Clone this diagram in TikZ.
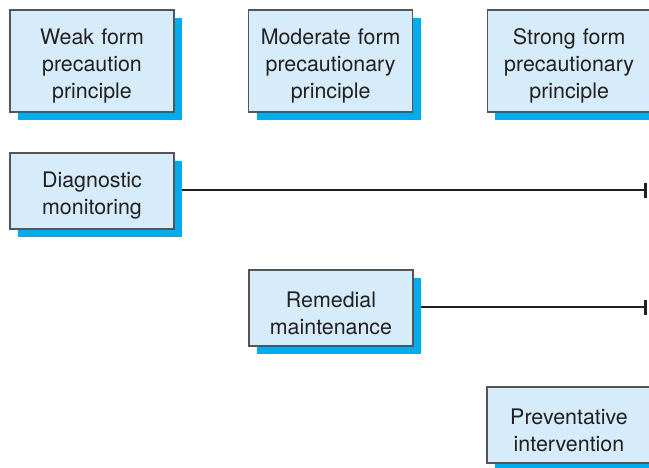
\documentclass[tikz,border=0pt]{standalone}
\usepackage{fontspec}
\setmainfont{TeX Gyre Heros}
\usepackage{tikz}
\usetikzlibrary{arrows.meta, positioning, shadows, backgrounds}
\definecolor{boxfill}{RGB}{214,236,250}
\definecolor{boxline}{RGB}{85,85,88}
\definecolor{shadowblue}{RGB}{0,172,236}
\definecolor{inkgray}{RGB}{35,31,32}

\begin{document}
\begin{tikzpicture}[
    x=0.5pt, y=-0.5pt,
    node distance=20.5pt and 37.3pt,
    principle/.style={rectangle, draw=boxline, line width=0.6pt, fill=boxfill,
                text width=76pt, align=center, minimum width=82pt, minimum height=51pt,
                inner sep=0pt, outer sep=0pt, text=inkgray, font=\fontsize{10.7}{13.5}\selectfont,
                execute at end node={\endgraf\vspace{-5pt}},
                drop shadow={shadow xshift=4pt, shadow yshift=-4pt, fill=shadowblue, opacity=1}},
    action/.style={principle, minimum height=38pt},
    arrow/.style={{}-{Bar[width=7.5pt, line width=1.5pt]}, line width=1.2pt, inkgray}
]
\useasboundingbox (0,0) rectangle (649,467);

\node[principle] (weak) at (92,61) {Weak form\\precaution\\principle};
\node[principle, right=of weak] (moderate) {Moderate form\\precautionary\\principle};
\node[principle, right=of moderate] (strong) {Strong form\\precautionary\\principle};
\node[action, below=of weak] (monitor) {Diagnostic\\monitoring};
\node[action, below=of monitor, xshift=119.5pt] (remedial) {Remedial\\maintenance};
\node[action, below=of remedial, xshift=119pt] (prevent) {Preventative\\intervention};

\coordinate (monitorend) at (647,190);
\coordinate (remedialend) at (647,307);

\begin{scope}[on background layer]
\draw[arrow] (monitor.east |- monitorend) -- (monitorend);
\draw[arrow] (remedial.east |- remedialend) -- (remedialend);
\end{scope}
\end{tikzpicture}
\end{document}
